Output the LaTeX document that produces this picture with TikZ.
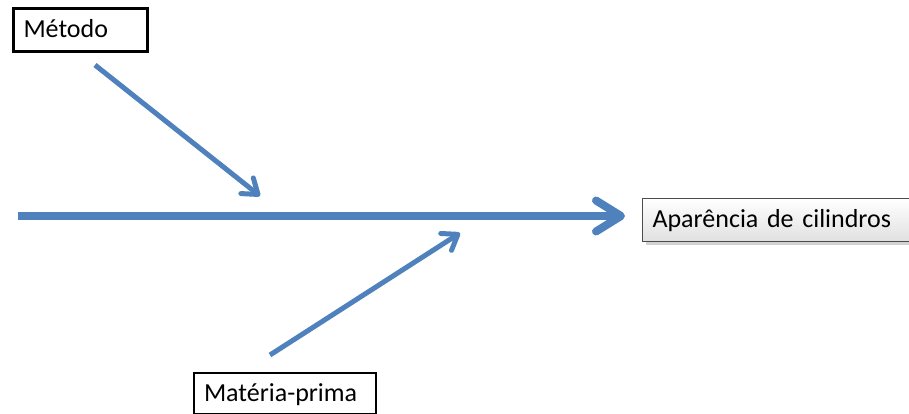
\documentclass[tikz,border=0pt]{standalone}
\usepackage{fontspec}
\setmainfont{Carlito}
\usetikzlibrary{arrows.meta,shadows}

\definecolor{causeblue}{RGB}{79,129,189}

\begin{document}
\begin{tikzpicture}[x=1pt,y=-1pt,
    font=\fontsize{26}{30}\selectfont,
    label box/.style={draw=black,fill=white,anchor=north west,align=left,
      inner xsep=10pt,inner ysep=0pt,text height=20pt,text depth=5pt},
    spine/.style={causeblue,line width=8pt,
      -{Straight Barb[length=25pt,width=31pt,round]}},
    bone/.style={causeblue,line width=5pt,
      -{Straight Barb[length=14pt,width=20pt,round]}}]
  \useasboundingbox (0,0) rectangle (909,414);
  % cause boxes
  \node[label box,line width=3pt,text width=114pt,minimum height=43pt]
    (metodo)  at (12,7)    {Método};
  \node[label box,line width=2pt,text width=162pt,minimum height=41pt]
    (materia) at (193,372) {Matéria-prima};
  % effect box, shaded with a shadow
  \node[label box,draw=black!70,line width=1pt,top color=white,bottom color=black!12,
    drop shadow={shadow xshift=3pt,shadow yshift=-3pt,fill=black!35},
    text width=247pt,minimum height=43pt]
    (efeito)  at (642,198) {Aparência de cilindros};
  % spine and bones
  \coordinate (tail)  at (18,216);
  \coordinate (head)  at (625,216);
  \coordinate (m0)    at (95,65);
  \coordinate (m1)    at (260,196);
  \coordinate (p0)    at (270,355);
  \coordinate (p1)    at (460,233);
  \draw[spine] (tail) -- (head);
  \draw[bone] (m0) -- (m1);
  \draw[bone] (p0) -- (p1);
\end{tikzpicture}
\end{document}
